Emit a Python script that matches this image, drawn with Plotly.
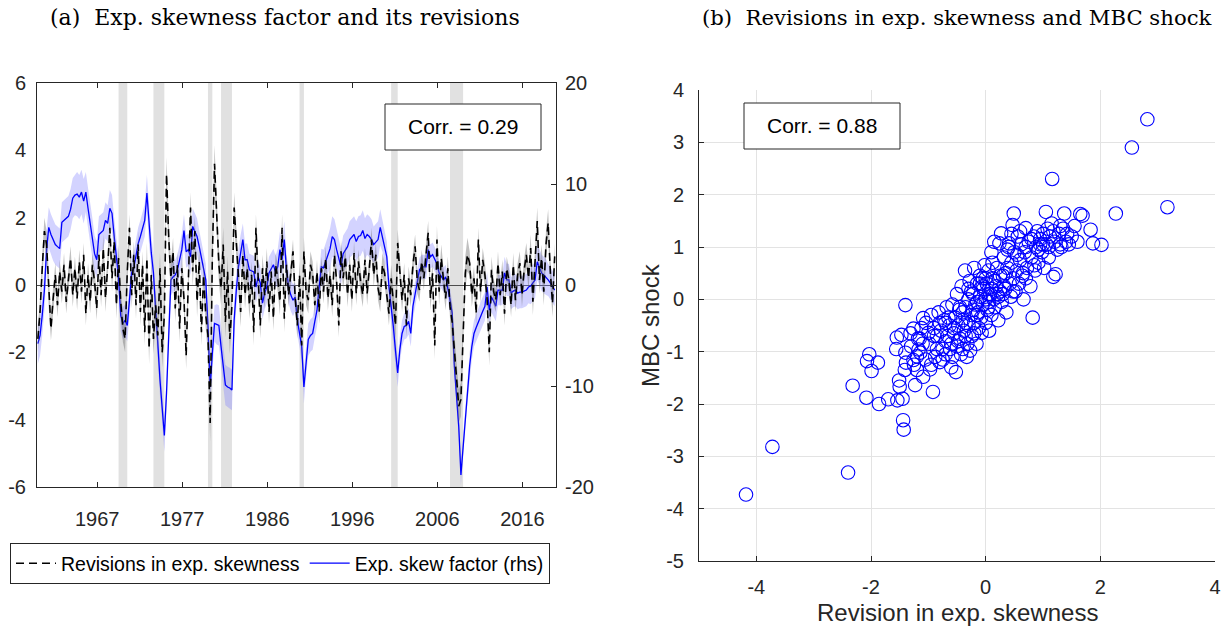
import plotly.graph_objects as go

# ---------------- Panel (a): quarterly series, 1960Q3 - 2019Q4 ----------------
first_quarter = 1960.5
n_quarters = 238
quarters = [first_quarter + 0.25 * i for i in range(n_quarters)]

# Expected skewness factor (right-hand scale)
skew_factor = [
    -5.8, -5.0,
    -3.0, -0.5, 3.5, 5.7,
    5.0, 4.4, 4.0, 3.8,
    3.6, 6.2, 6.4, 6.6,
    6.8, 7.5, 8.6, 8.9,
    9.0, 8.7, 9.2, 8.3,
    9.2, 7.6, 6.2, 4.6,
    3.1, 2.5, 5.0, 5.2,
    5.4, 6.4, 6.1, 7.6,
    7.1, 4.8, 2.8, 0.8,
    -3.0, -3.8, -3.5, -4.0,
    -1.5, 1.2, 1.7, 2.8,
    4.1, 4.8, 5.6, 6.4,
    9.1, 5.8, 3.2, 1.2,
    -3.0, -5.8, -9.4, -12.0,
    -14.9, -10.7, -4.1, 0.5,
    0.8, 1.0, 1.5, 2.5,
    3.5, 5.4, 3.3, 3.5,
    2.8, 5.8, 5.2, 4.8,
    3.8, 2.6, 1.5, 0.5,
    -4.1, -10.1, -6.8, -3.8,
    -3.9, -4.0, -6.1, -8.0,
    -9.9, -10.1, -10.2, -10.4,
    -3.5, -0.5, 1.8, 3.2,
    4.5, 2.5, 2.5, 1.5,
    1.4, 1.3, -0.2, 0.8,
    0.2, -1.8, -0.8, -0.2,
    1.2, 1.6, 2.0, 1.3,
    1.8, 3.5, 2.5, 4.5,
    1.5, -0.2, -1.0, -1.5,
    -1.2, -3.5, -4.8, -6.1,
    -10.1, -7.4, -5.4, -5.0,
    -4.8, -3.6, -2.5, -0.2,
    1.8, 1.7, 2.3, 3.0,
    3.6, 4.8, 4.5, 3.5,
    2.6, 1.8, 3.1, 3.5,
    3.8, 4.5, 4.7, 5.0,
    4.3, 4.8, 4.9, 5.4,
    4.6, 5.0, 4.8, 4.5,
    4.0, 4.2, 4.5, 5.7,
    4.8, 3.8, 2.8, -0.2,
    -2.0, -4.1, -6.5, -8.7,
    -6.4, -4.8, -4.1, -4.0,
    -3.6, -4.8, -2.1, -0.8,
    0.2, 1.5, 1.8, 1.8,
    1.8, 3.5, 2.8, 3.0,
    2.5, 2.1, 1.2, 0.8,
    0.5, 0.8, -0.2, -1.5,
    -2.8, -8.1, -11.0, -14.0,
    -18.8, -16.0, -13.0, -10.7,
    -8.0, -6.1, -4.8, -4.2,
    -3.6, -3.1, -2.6, -2.1,
    -0.2, -2.5, -1.2, -1.6,
    -2.1, -0.5, -0.5, -0.5,
    1.2, 0.5, 0.5, -0.8,
    -0.6, -0.5, -0.8, -0.7,
    -0.7, -0.6, -0.5, -0.2,
    -0.1, 0.2, 0.5, 2.3,
    1.8, 1.2, 1.0, 0.8,
    0.5, 0.2, -0.2, -0.5,
]

# Revisions in expected skewness (left-hand scale)
skew_revisions = [
    -1.6, -0.8,
    0.5, 1.6, 1.2, -0.3,
    -1.3, -0.4, 0.3, -0.6,
    0.4, -0.2, 0.6, -0.5,
    0.2, 0.8, -0.3, 0.5,
    -0.4, 0.7, -0.2, 0.9,
    -0.85, 0.3, -0.5, 0.6,
    0.1, -0.7, 0.9, -0.3,
    1.1, -0.4, 0.5, 1.7,
    0.2, 1.3, -0.6, 0.8,
    -0.5, -1.3, -1.6, 0.4,
    1.7, -0.3, 0.9, -0.6,
    1.2, -0.8, 0.6, -1.4,
    0.8, -1.9, 0.3, -1.6,
    -0.6, -1.5, 0.5, -2.0,
    -0.9, 3.3, 1.4, 0.2,
    1.0, -0.7, 0.6, -1.3,
    0.5, -0.4, -2.1, 0.3,
    2.3, 0.4, 1.6, -0.5,
    0.7, -1.4, 0.3, -0.9,
    -1.5, -4.1, 0.8, 3.6,
    2.3, 0.6, -0.1, 1.2,
    -1.1, 0.4, -1.6, -0.6,
    2.3, 1.3, 0.2, -0.8,
    0.9, -0.3, 0.5, -0.6,
    0.3, -1.4, 1.7, 0.2,
    -1.2, 0.5, -0.3, 0.7,
    -0.8, 0.4, -1.0, 0.6,
    0.2, -0.5, 1.7, -1.0,
    0.6, -0.3, 0.35, 1.0,
    -0.4, -1.2, 0.3, -1.8,
    1.0, -0.2, -0.45, 0.6,
    0.35, -0.6, 0.4, -0.8,
    0.5, -0.2, 0.8, -0.4,
    0.3, -0.6, 0.9, 0.1,
    -1.2, 1.0, 0.2, 0.85,
    -0.3, 0.6, -0.45, 0.95,
    -0.25, 0.7, 0.1, -0.3,
    0.75, -0.25, 0.5, 1.35,
    0.3, 0.9, -0.1, -0.45,
    0.6, 0.35, -0.3, -0.85,
    0.2, -0.6, -1.2, 1.25,
    0.4, -0.45, 0.3, -1.2,
    0.2, -0.3, 0.6, 1.15,
    0.1, -0.15, 0.7, 0.2,
    0.9, 1.55, -0.4, 0.35,
    -1.8, 1.35, -0.2, 0.8,
    0.15, -0.4, 0.5, -0.65,
    -1.1, -2.0, -2.8, -3.6,
    -3.4, -1.2, 0.35, 0.9,
    0.65, -0.3, 0.2, -0.85,
    1.35, -0.2, 0.75, 0.3,
    -0.4, -2.0, 0.45, -0.2,
    -0.45, 0.65, -0.3, 0.4,
    -0.85, 0.5, 0.15, -0.6,
    0.6, -0.45, 0.3, 0.65,
    -0.3, 0.45, 0.9, 0.2,
    1.1, -0.5, 0.7, 1.9,
    0.15, 0.8, -0.2, 1.2,
    1.85, 0.4, -0.55, 0.85,
]

# Half-width of the uncertainty bands, one value per calendar year (1960-2019)
factor_band_by_year = [
    2.0, 2.0, 2.0, 2.0, 2.0, 2.2, 2.0, 1.8, 1.8, 1.8,
    1.6, 1.6, 1.6, 1.8, 1.6, 1.6, 1.5, 1.6, 1.8, 1.6,
    1.8, 2.0, 2.0, 1.8, 1.6, 1.6, 1.6, 1.6, 1.8, 1.6,
    1.4, 1.6, 1.6, 1.8, 2.0, 1.8, 1.8, 2.0, 2.0, 1.8,
    1.5, 1.4, 1.3, 1.3, 1.2, 1.2, 1.2, 1.2, 1.1, 1.0,
    1.3, 1.4, 1.5, 1.5, 1.6, 1.6, 1.6, 1.8, 1.8, 1.6,
]
revision_band_by_year = [
    0.4, 0.4, 0.35, 0.35, 0.35, 0.35, 0.35, 0.35, 0.4, 0.4,
    0.4, 0.4, 0.4, 0.45, 0.45, 0.5, 0.4, 0.4, 0.45, 0.4,
    0.55, 0.5, 0.45, 0.45, 0.4, 0.4, 0.4, 0.35, 0.4, 0.35,
    0.4, 0.4, 0.35, 0.35, 0.35, 0.35, 0.35, 0.35, 0.35, 0.35,
    0.35, 0.4, 0.35, 0.35, 0.35, 0.35, 0.4, 0.35, 0.5, 0.5,
    0.35, 0.35, 0.4, 0.35, 0.35, 0.35, 0.35, 0.4, 0.4, 0.4,
]

# NBER recession dates
recession_start = [1969.75, 1973.75, 1980.0, 1981.5, 1990.5, 2001.0, 2007.75]
recession_end = [1970.75, 1975.0, 1980.5, 1982.75, 1991.0, 2001.75, 2009.25]

year_ticks = [1967.3, 1977.05, 1986.8, 1996.55, 2006.3, 2016.05]
year_tick_text = ["1967", "1977", "1986", "1996", "2006", "2016"]
lhs_ticks = [-6, -4, -2, 0, 2, 4, 6]
rhs_ticks = [-20, -10, 0, 10, 20]

# ---------------- Panel (b): revisions vs. MBC shock ----------------
revision_x = [
    -4.18, -3.72, -2.40, -2.32, -2.08, -2.03, -2.07, -1.99, -1.88, -1.86,
    -1.70, -1.54, -1.45, -1.44, -1.43, -1.55, -1.47, -1.56, -1.51, -1.50,
    -1.41, -1.39, -1.40, -1.40, -1.31, -1.26, -1.23, -1.26, -1.20, -1.17,
    -1.14, -1.09, -1.09, -1.04, -1.00, -0.97, -0.92, -0.52,
    2.82, 2.55, 1.16, 3.17, 2.27, 2.02, 1.87, 1.83, 1.69, 1.65,
    1.37, 1.05, 0.49, 0.47, 0.70, 1.18, 1.22, 0.82, 1.55, 1.45,
    -1.30, -1.25, -1.18, -1.12, -1.05, -0.98, -0.95, -0.90, -0.88, -0.85,
    -0.82, -0.80, -0.78, -0.75, -0.72, -0.70, -0.68, -0.66, -0.63, -0.60,
    -0.60, -0.58, -0.55, -0.53, -0.50, -0.50, -0.48, -0.46, -0.45, -0.43,
    -0.42, -0.40, -0.38, -0.36, -0.35, -0.33, -0.32, -0.30, -0.30, -0.28,
    -0.27, -0.25, -0.24, -0.22, -0.20, -0.20, -0.18, -0.16, -0.15, -0.13,
    -0.12, -0.10, -0.10, -0.08, -0.07, -0.05, -0.04, -0.02, 0.00, 0.00,
    0.02, 0.03, 0.05, 0.06, 0.08, 0.10, 0.10, 0.12, 0.14, 0.15,
    0.16, 0.18, 0.20, 0.22, 0.24, 0.25, 0.27, 0.28, 0.30, 0.32,
    0.34, 0.36, 0.38, 0.40, 0.41, 0.42, 0.44, 0.45, 0.48, 0.50,
    0.52, 0.54, 0.56, 0.58, 0.60, 0.62, 0.64, 0.66, 0.68, 0.72,
    0.75, 0.78, 0.80, 0.84, 0.86, 0.88, 0.90, 0.92, 0.95, 0.98,
    1.00, 1.02, 1.06, 1.08, 1.10, 1.12, 1.20, 1.25, 1.28, 1.30,
    1.35, 1.40, 1.50, 1.60, -0.65, -0.45, -0.25, -0.05, 0.15, 0.35,
    -0.85, -0.70, -0.55, -0.40, -0.15, 0.05, 0.25, 0.55, 0.70, 0.95,
    -0.95, -0.75, -0.62, -0.48, -0.35, -0.22, -0.10, 0.05, 0.20, 0.38,
    0.60, 0.85, 1.15, 1.32, -1.20, -1.10, -0.80, -0.30, 0.00, 0.30,
    -0.15, 0.05, 0.22, -0.35, 0.12, -0.05, 0.32, 0.48, 0.65, 0.80,
    1.00, 1.18, 1.42, 0.92, 1.30, -0.70, -0.90, -1.15, -0.58, -0.20,
    0.45, 0.10, -0.40, 0.70, 1.10,
]
mbc_shock = [
    -3.73, -2.82, -3.31, -1.65, -1.88, -1.05, -1.18, -1.37, -1.21, -2.00,
    -1.91, -1.93, -1.90, -2.31, -2.49, -0.73, -0.68, -0.95, -1.55, -1.67,
    -1.35, -1.21, -1.02, -0.11, -0.65, -0.56, -1.64, -1.16, -1.09, -0.96,
    -1.02, -1.48, -0.36, -0.45, -0.64, -1.34, -1.77, -1.39,
    3.44, 2.90, 2.30, 1.76, 1.64, 1.04, 1.07, 1.33, 1.60, 1.63,
    1.64, 1.67, 1.64, 1.42, 1.36, 0.43, 0.48, -0.35, 1.40, 1.05,
    -0.90, -1.25, -0.75, -0.55, -1.15, -0.85, -0.30, -0.55, -1.10, -0.70,
    -0.25, -1.20, -0.60, -0.95, -0.40, -1.05, -0.15, -0.70, -0.50, -0.85,
    -1.30, -0.10, -0.65, -0.35, -0.90, 0.10, -0.50, -0.20, -0.75, -1.05,
    0.25, -0.40, -0.60, 0.55, -0.15, -1.10, -0.85, 0.00, -0.50, 0.35,
    -0.98, -0.30, -0.70, 0.10, -0.45, 0.60, -0.10, -0.85, 0.30, -0.25,
    -0.55, 0.05, 0.45, -0.35, -0.64, -0.10, 0.20, 0.65, -0.45, 0.00,
    0.30, -0.20, 0.55, -0.60, 0.10, 0.90, -0.30, 0.40, 0.00, 1.10,
    -0.15, 0.25, 0.60, -0.40, 1.07, 0.15, 1.26, -0.05, 0.45, 0.80,
    0.20, -0.25, 0.60, 1.00, 1.07, 0.30, 0.05, 0.70, 0.40, 0.90,
    0.15, 0.55, 1.20, 0.30, 0.75, 1.05, 0.45, 0.00, 0.90, 0.60,
    1.10, 0.25, 0.80, 1.20, 0.55, 1.00, 1.30, 0.70, 1.15, 0.90,
    1.25, 0.60, 1.05, 1.35, 0.80, 1.20, 1.10, 0.95, 1.25, 1.05,
    1.35, 1.10, 1.20, 1.10, -0.35, -0.15, 0.15, 0.25, 0.35, 0.50,
    -0.95, -0.80, -0.55, -0.25, -0.05, 0.10, 0.45, 0.85, 1.00, 1.05,
    -1.25, -1.15, -0.95, -0.80, -0.45, -0.20, 0.30, -0.05, 0.10, 0.95,
    1.30, 0.65, 1.45, 1.00, -1.35, -0.85, -0.45, 0.20, 0.40, 0.10,
    -0.30, -0.15, 0.05, -0.70, 0.70, 0.40, 0.25, 0.15, 0.50, 1.15,
    1.05, 1.30, 1.25, 0.95, 1.40, -0.45, -0.70, -0.75, -1.10, -0.65,
    1.25, 0.20, -0.95, 0.40, 1.00,
]
scatter_x_ticks = [-4, -2, 0, 2, 4]
scatter_y_ticks = [-5, -4, -3, -2, -1, 0, 1, 2, 3, 4]

corr_a_text = "Corr. = 0.29"
corr_b_text = "Corr. = 0.88"

# ---------------- styling ----------------
W, H = 1228, 630
SANS = "Liberation Sans, Arial, sans-serif"
SERIF = "DejaVu Serif, serif"
INK = "#262626"


def px_x(v):
    return v / W


def px_y(v):
    return 1 - v / H


def labels(vals):
    # plain hyphen-minus for negative numbers
    return [str(v) for v in vals]


def per_quarter(by_year):
    # the sample opens in 1960Q3, so the first year has two quarters
    out = [by_year[0]] * 2
    for w in by_year[1:]:
        out += [w] * 4
    return out


factor_band = per_quarter(factor_band_by_year)
revision_band = per_quarter(revision_band_by_year)

fig = go.Figure()

# right-hand scale (base axis): factor band + factor line
fig.add_trace(go.Scatter(
    x=quarters + quarters[::-1],
    y=[v + w for v, w in zip(skew_factor, factor_band)]
      + [v - w for v, w in zip(skew_factor, factor_band)][::-1],
    fill="toself", fillcolor="rgba(120,120,255,0.33)", line=dict(width=0),
    hoverinfo="skip", showlegend=False, xaxis="x", yaxis="y",
))
fig.add_trace(go.Scatter(
    x=quarters, y=skew_factor, mode="lines",
    line=dict(color="#0000ff", width=1.3),
    name="Exp. skew factor (rhs)", legendrank=2, xaxis="x", yaxis="y",
))

# left-hand scale (overlay axis): revision band + dashed revision line
fig.add_trace(go.Scatter(
    x=quarters + quarters[::-1],
    y=[v + w for v, w in zip(skew_revisions, revision_band)]
      + [v - w for v, w in zip(skew_revisions, revision_band)][::-1],
    fill="toself", fillcolor="rgba(105,105,105,0.42)", line=dict(width=0),
    hoverinfo="skip", showlegend=False, xaxis="x", yaxis="y2",
))
fig.add_trace(go.Scatter(
    x=quarters, y=skew_revisions, mode="lines",
    line=dict(color="#000000", width=1.6, dash="8px,5px"),
    name="Revisions in exp. skewness", legendrank=1, xaxis="x", yaxis="y2",
))

# scatter panel
fig.add_trace(go.Scatter(
    x=revision_x, y=mbc_shock, mode="markers",
    marker=dict(symbol="circle-open", size=13.5, color="#0000ff",
                line=dict(width=1.1, color="#0000ff")),
    showlegend=False, xaxis="x2", yaxis="y3",
))

# recession shading
shapes = []
for s, e in zip(recession_start, recession_end):
    shapes.append(dict(type="rect", xref="x", yref="y domain", x0=s, x1=e,
                       y0=0, y1=1, fillcolor="#e1e1e1", line=dict(width=0),
                       layer="below"))
# correlation boxes
shapes.append(dict(type="rect", xref="paper", yref="paper",
                   x0=px_x(385), x1=px_x(541), y0=px_y(150), y1=px_y(104),
                   line=dict(color=INK, width=1), fillcolor="white", layer="above"))
shapes.append(dict(type="rect", xref="paper", yref="paper",
                   x0=px_x(744), x1=px_x(900), y0=px_y(149), y1=px_y(103),
                   line=dict(color=INK, width=1), fillcolor="white", layer="above"))

annotations = [
    dict(text="(a)  Exp. skewness factor and its revisions", xref="paper", yref="paper",
         x=px_x(285), y=px_y(17), showarrow=False, xanchor="center", yanchor="middle",
         font=dict(family=SERIF, size=22, color="#000000")),
    dict(text="(b)  Revisions in exp. skewness and MBC shock", xref="paper", yref="paper",
         x=px_x(957), y=px_y(17), showarrow=False, xanchor="center", yanchor="middle",
         font=dict(family=SERIF, size=21.2, color="#000000")),
    dict(text=corr_a_text, xref="paper", yref="paper", x=px_x(463), y=px_y(127),
         showarrow=False, xanchor="center", yanchor="middle",
         font=dict(family=SANS, size=21, color="#000000")),
    dict(text=corr_b_text, xref="paper", yref="paper", x=px_x(822), y=px_y(126),
         showarrow=False, xanchor="center", yanchor="middle",
         font=dict(family=SANS, size=21, color="#000000")),
    dict(text="MBC shock", xref="paper", yref="paper", x=px_x(650), y=px_y(325),
         showarrow=False, textangle=-90, xanchor="center", yanchor="middle",
         font=dict(family=SANS, size=24, color=INK)),
    dict(text="Revision in exp. skewness", xref="paper", yref="paper",
         x=px_x(957), y=px_y(612), showarrow=False, xanchor="center", yanchor="middle",
         font=dict(family=SANS, size=24, color=INK)),
]

tick_font = dict(family=SANS, size=20, color=INK)

fig.update_layout(
    width=W, height=H, margin=dict(l=0, r=0, t=0, b=0, autoexpand=False),
    paper_bgcolor="white", plot_bgcolor="white",
    font=dict(family=SANS, color=INK),
    shapes=shapes, annotations=annotations,
    xaxis=dict(domain=[px_x(37), px_x(556)], anchor="y", range=[1960.4, 2019.9],
               tickvals=year_ticks, ticktext=year_tick_text, tickfont=tick_font,
               ticks="inside", ticklen=5, tickcolor=INK, showgrid=False,
               showline=True, linecolor=INK, linewidth=1, mirror="ticks",
               zeroline=False, ticklabelstandoff=14),
    yaxis=dict(domain=[px_y(487), px_y(83)], anchor="x", side="right",
               range=[-20, 20], tickvals=rhs_ticks, ticktext=labels(rhs_ticks),
               tickfont=tick_font,
               ticks="inside", ticklen=5, tickcolor=INK, showgrid=False,
               showline=True, linecolor=INK, linewidth=1,
               zeroline=True, zerolinecolor="#4d4d4d", zerolinewidth=1,
               ticklabelstandoff=4),
    yaxis2=dict(overlaying="y", anchor="x", side="left", range=[-6, 6],
                tickvals=lhs_ticks, ticktext=labels(lhs_ticks), tickfont=tick_font,
                ticks="", showgrid=False, showline=True, linecolor=INK,
                linewidth=1, zeroline=False, ticklabelstandoff=6),
    xaxis2=dict(domain=[px_x(699), px_x(1215)], anchor="y3", range=[-5, 4],
                tickvals=scatter_x_ticks, ticktext=labels(scatter_x_ticks),
                tickfont=tick_font,
                ticks="inside", ticklen=5, tickcolor=INK,
                showgrid=True, gridcolor="#e3e3e3", gridwidth=1,
                showline=True, linecolor=INK, linewidth=1, zeroline=False,
                ticklabelstandoff=8),
    yaxis3=dict(domain=[px_y(561), px_y(90)], anchor="x2", range=[-5, 4],
                tickvals=scatter_y_ticks, ticktext=labels(scatter_y_ticks),
                tickfont=tick_font,
                ticks="inside", ticklen=5, tickcolor=INK,
                showgrid=True, gridcolor="#e3e3e3", gridwidth=1,
                showline=True, linecolor=INK, linewidth=1, zeroline=False,
                ticklabelstandoff=10),
    legend=dict(orientation="h", x=px_x(10), y=px_y(543), xanchor="left",
                yanchor="top", bordercolor=INK, borderwidth=1, bgcolor="white",
                font=dict(family=SANS, size=19.5, color="#000000"),
                itemwidth=40, tracegroupgap=0),
)

fig.write_html("out.html")
